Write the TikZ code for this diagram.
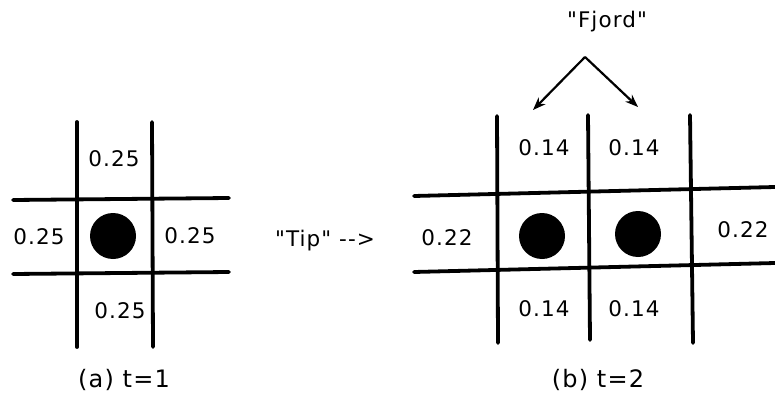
\documentclass[tikz,border=0pt]{standalone}
\usepackage{fontspec}
\newfontfamily\gridfont{DejaVu Sans}[LetterSpace=5]
\usetikzlibrary{arrows.meta, positioning}

\begin{document}
\begin{tikzpicture}[x=1pt, y=-1pt, font=\gridfont\fontsize{21.5}{25}\selectfont, >=Stealth]

\useasboundingbox (0,0) rectangle (775,406);

\tikzset{
  gridline/.style={line width=3.8pt, line cap=round},
  token/.style={circle, fill=black, minimum size=46pt, inner sep=0pt},
  prob/.style={inner sep=1pt},
  caption/.style={font=\gridfont\fontsize{24}{28}\selectfont}
}

% (a) t=1
\draw[gridline] (77,122) -- (77,347);
\draw[gridline] (152,122) -- (153,347);
\draw[gridline] (13,200) -- (229,198);
\draw[gridline] (13,274) -- (229,272);

\node[token] (tokA) at (113,236) {};
\node[prob] (aN) at (114,159) {0.25};
\node[prob] (aW) at (39,237)  {0.25};
\node[prob] (aE) at (190,236) {0.25};
\node[prob] (aS) at (120,311) {0.25};
\node[caption] (capA) at (124,380) {(a) t=1};

% (b) t=2
\draw[gridline] (497,116) -- (498,343);
\draw[gridline] (588,115) -- (590,340);
\draw[gridline] (690,115) -- (693,343);
\draw[gridline] (414,196) -- (775,187);
\draw[gridline] (414,272) -- (775,263);

\node[token] (tokB1) at (542,236) {};
\node[token] (tokB2) at (638,234) {};
\node[prob] (bN1) at (544,148) {0.14};
\node[prob] (bN2) at (634,148) {0.14};
\node[prob] (bW)  at (447,238) {0.22};
\node[prob] (bE)  at (743,230) {0.22};
\node[prob] (bS1) at (544,309) {0.14};
\node[prob] (bS2) at (634,309) {0.14};
\node[caption] (capB) at (598,380) {(b) t=2};

% labels
\node (tip) at (325,241) {"Tip" -->};
\node (fjord) at (607,22) {"Fjord"};
\coordinate (apex) at (585,57);
\coordinate (fjL) at (533,110);
\coordinate (fjR) at (638,107);
\draw[->, line width=2.2pt] (apex) -- (fjL);
\draw[->, line width=2.2pt] (apex) -- (fjR);

\end{tikzpicture}
\end{document}
